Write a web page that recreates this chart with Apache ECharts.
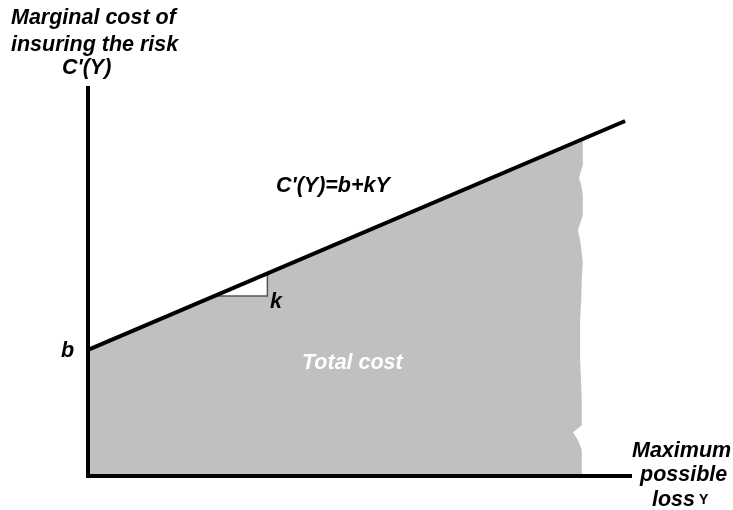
<!DOCTYPE html>
<html><head><meta charset="utf-8">
<script src="https://cdn.jsdelivr.net/npm/echarts@6/dist/echarts.min.js"></script>
<style>html,body{margin:0;padding:0;background:#fff}#c{width:733px;height:510px}</style>
</head><body><div id="c"></div>
<script>
// marginal cost line C'(Y)=b+kY
const lineX = [0, 9.91];
const lineY = [3.25, 9.15];
// shaded total cost area: top edge along the line, then ragged right edge
const fillTopX = [0, 0, 9.13];
const fillTopY = [0, 3.25, 8.66];
const edgeX = [9.13, 9.06, 9.10, 9.13, 9.13, 9.04, 9.08, 9.13, 9.11, 9.10, 9.08, 9.08, 9.10, 9.11, 9.11, 8.95, 9.04, 9.11, 9.11];
const edgeY = [8.02, 7.68, 7.50, 7.24, 6.73, 6.34, 6.08, 5.52, 5.05, 4.54, 4.02, 2.99, 2.35, 1.96, 1.31, 1.13, 0.93, 0.67, 0];
// slope triangle
const triX = [2.34, 3.31, 3.31];
const triY = [4.64, 4.64, 5.22];

const fillPts = fillTopX.map((x, i) => [x, fillTopY[i]]).concat(edgeX.map((x, i) => [x, edgeY[i]]));
const triPts = triX.map((x, i) => [x, triY[i]]);

const font = '"Liberation Sans", Arial, sans-serif';
const F = 'italic bold 21.5px ' + font;
const txt = (left, top, text, extra) => Object.assign({
  type: 'text', left: left, top: top, z: 100,
  style: Object.assign({ text: text, font: F, fill: '#000' }, extra || {})
});

const chart = echarts.init(document.getElementById('c'), null, { renderer: 'canvas' });
chart.setOption({
  animation: false,
  grid: { left: 88, right: 103, top: 88, bottom: 34 },
  xAxis: { type: 'value', min: 0, max: 10, z: 10,
    axisLine: { lineStyle: { color: '#000', width: 4, cap: 'square' } },
    axisTick: { show: false }, axisLabel: { show: false }, splitLine: { show: false } },
  yAxis: { type: 'value', min: 0, max: 10, z: 10,
    axisLine: { show: true, lineStyle: { color: '#000', width: 4, cap: 'square' } },
    axisTick: { show: false }, axisLabel: { show: false }, splitLine: { show: false } },
  series: [
    { type: 'custom', z: 1, data: [0],
      renderItem: (params, api) => ({
        type: 'polygon',
        shape: { points: fillPts.map(p => api.coord(p)) },
        style: { fill: '#c0c0c0' }
      }) },
    { type: 'custom', z: 2, data: [0],
      renderItem: (params, api) => {
        const pts = triPts.map(p => api.coord(p));
        return { type: 'group', children: [
          { type: 'polygon', shape: { points: pts }, style: { fill: '#fff' } },
          { type: 'polyline', shape: { points: pts }, style: { stroke: '#555', lineWidth: 1.5, fill: null } }
        ] };
      } },
    { type: 'line', z: 5, symbol: 'none', data: lineX.map((x, i) => [x, lineY[i]]),
      lineStyle: { color: '#000', width: 4 } }
  ],
  graphic: [
    { type: 'text', left: 11, top: 5, z: 100, style: { text: 'Marginal cost of\ninsuring the risk', font: F, fill: '#000', lineHeight: 27 } },
    txt(62, 57, "C'(Y)"),
    txt(276, 175, "C'(Y)=b+kY"),
    txt(270, 291, 'k'),
    txt(61, 340, 'b'),
    txt(302, 352, 'Total cost', { fill: '#fff' }),
    txt(632, 440, 'Maximum'),
    txt(640, 464, 'possible'),
    { type: 'text', left: 652, top: 489, z: 100, style: { rich: { a: { font: F }, b: { font: 'bold 14px ' + font } }, text: '{a|loss}{b| Y}', fill: '#000' } }
  ]
});
</script></body></html>
